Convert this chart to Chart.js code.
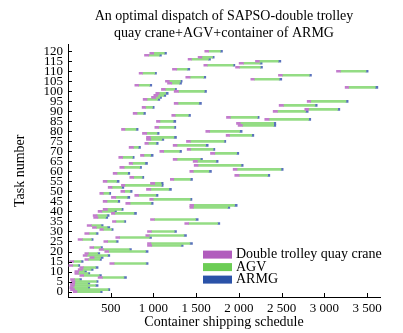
<!DOCTYPE html>
<html><head><meta charset="utf-8">
<script src="https://cdn.jsdelivr.net/npm/chart.js@4"></script>
<style>html,body{margin:0;padding:0;background:#fff}canvas{display:block}</style>
</head><body>
<canvas id="c" width="403" height="333"></canvas>
<script>
const taskNumbers = [0,1,2,3,4,5,6,7,8,9,10,11,12,13,14,15,16,17,18,19,20,21,22,23,24,25,26,27,28,29,30,31,32,33,34,35,36,37,38,39,40,41,42,43,44,45,46,47,48,49,50,51,52,53,54,55,56,57,58,59,60,61,62,63,64,65,66,67,68,69,70,71,72,73,74,75,76,77,78,79,80,81,82,83,84,85,86,87,88,89,90,91,92,93,94,95,96,97,98,99,100,101,102,103,104,105,106,107,108,109,110,111,112,113,114,115,116,117,118,119,120];
const craneStart = [
 60,29,21,29,29,41,29,352,138,80,
 80,119,138,10,489,21,197,255,177,197,
 430,364,255,930,930,419,118,559,910,196,
 930,372,286,224,1366,520,965,300,294,508,
 352,411,1425,1425,676,411,956,508,781,372,
 618,918,470,625,965,411,1197,723,1951,528,
 1425,1932,606,1476,715,1464,1230,594,848,1667,
 1074,1394,715,1230,899,1386,918,918,1850,871,
 1612,626,1016,1990,1971,1035,2302,1854,1214,762,
 2400,2770,867,2470,1242,2798,879,977,1004,1027,
 1242,1093,3242,782,1164,1140,2139,1378,2462,832,
 3141,1222,1960,1589,2002,2193,1405,1522,895,957,
 1600];
const craneTime = [
 45,50,40,45,50,40,45,50,45,40,
 45,50,40,45,50,45,40,50,45,40,
 45,50,45,50,40,45,50,45,40,50,
 45,40,45,50,45,40,45,50,45,40,
 45,50,40,45,50,45,40,50,45,40,
 45,50,45,40,50,45,40,45,50,45,
 40,45,50,45,40,50,45,45,40,50,
 45,40,50,45,40,45,50,45,40,50,
 45,40,45,50,45,40,50,45,40,45,
 50,45,40,50,45,40,45,50,45,40,
 50,45,40,45,50,45,40,50,45,40,
 45,50,45,40,50,45,40,45,50,45,
 45];
const armgEnd = [
 400,489,255,352,255,352,158,684,391,255,
 216,294,352,138,937,177,391,411,489,372,
 937,742,403,1347,1456,587,294,977,1386,352,
 1269,528,489,411,1776,676,1523,465,481,801,
 567,645,1893,1979,996,606,1450,723,1053,500,
 750,1210,653,1113,1113,598,1456,887,2361,723,
 1678,2517,860,2049,930,1756,1573,774,996,1998,
 1328,1718,848,1640,1055,1846,1121,1269,2174,1066,
 2037,820,1261,2431,2431,1261,2840,2236,1433,906,
 2810,3180,1008,2915,1561,3277,1074,1094,1144,1172,
 1620,1269,3625,980,1328,1335,2501,1612,2848,1035,
 3511,1425,2275,1952,2271,2490,1667,1710,1093,1152,
 1807];
const armgTime = [
 25,20,25,30,25,20,25,30,25,20,
 25,25,30,20,25,25,20,30,25,25,
 30,25,20,25,30,25,20,25,30,25,
 25,20,30,25,25,20,30,25,25,30,
 25,20,25,30,25,25,20,30,25,20,
 25,30,25,20,25,30,25,20,25,25,
 30,25,20,25,30,25,25,20,30,25,
 25,20,25,30,25,20,25,30,25,25,
 30,25,20,25,25,30,25,20,25,25,
 30,25,20,25,30,25,25,20,25,30,
 25,20,30,25,25,20,30,25,25,20,
 25,30,25,20,25,30,25,20,25,25,
 25];
const xTicks = [0,500,1000,1500,2000,2500,3000,3500];
const yTicks = [0,5,10,15,20,25,30,35,40,45,50,55,60,65,70,75,80,85,90,95,100,105,110,115,120];
const seriesNames = ['Double trolley quay crane','AGV','ARMG'];
const seriesColors = ['#b15cbd','#6ccd55','#2a52a8'];
const barColors = ['#c37ccd','#94dc84','#5a72bc'];
const titleLines = ['An optimal dispatch of SAPSO-double trolley','quay crane+AGV+container of ARMG'];

const SERIF = "'Liberation Serif','Times New Roman',serif";

const craneData = taskNumbers.map((t,i)=>({y:t, x:[craneStart[i], craneStart[i]+craneTime[i]]}));
const agvData = taskNumbers.map((t,i)=>({y:t, x:[craneStart[i]+craneTime[i], armgEnd[i]-armgTime[i]]}));
const armgData = taskNumbers.map((t,i)=>({y:t, x:[armgEnd[i]-armgTime[i], armgEnd[i]]}));

const decor = {
  id:'decor',
  afterDraw(chart){
    const ctx=chart.ctx, xs=chart.scales.x, ys=chart.scales.y, a=chart.chartArea;
    ctx.save();
    ctx.strokeStyle='#000'; ctx.lineWidth=1;
    ctx.beginPath();
    xTicks.forEach(v=>{const px=Math.round(xs.getPixelForValue(v))+0.5; ctx.moveTo(px,a.bottom); ctx.lineTo(px,a.bottom-4);});
    yTicks.forEach(v=>{const py=Math.round(ys.getPixelForValue(v))+0.5; ctx.moveTo(a.left,py); ctx.lineTo(a.left+4,py);});
    ctx.stroke();
    const ds = chart.data.datasets;
    const lx = a.left+135, rows=[a.top+210, a.top+222.5, a.top+235];
    ctx.font = "14px " + SERIF;
    ctx.textBaseline='middle'; ctx.textAlign='left';
    ds.forEach((d,i)=>{
      ctx.fillStyle=seriesColors[i];
      ctx.fillRect(lx, rows[i]-4, 29, 8);
      ctx.fillStyle='#000';
      ctx.fillText(d.label, lx+33, rows[i]);
    });
    ctx.restore();
  }
};

new Chart(document.getElementById('c'), {
  type:'bar',
  data:{datasets:[
    {label:seriesNames[0], data:craneData, backgroundColor:barColors[0]},
    {label:seriesNames[1], data:agvData, backgroundColor:barColors[1]},
    {label:seriesNames[2], data:armgData, backgroundColor:barColors[2]}
  ]},
  options:{
    indexAxis:'y',
    responsive:false,
    animation:false,
    devicePixelRatio:1,
    datasets:{bar:{barThickness:2, grouped:false, borderWidth:0}},
    layout:{padding:{left:0,right:23,top:0,bottom:0}},
    plugins:{
      legend:{display:false},
      tooltip:{enabled:false},
      title:{display:true, text:titleLines, fullSize:false, color:'#000',
        font:{family:SERIF, size:14, weight:'normal', lineHeight:1.2}, padding:{top:8,bottom:3}}
    },
    scales:{
      x:{type:'linear', min:0, max:3650,
        afterBuildTicks:s=>{s.ticks=xTicks.map(v=>({value:v}));},
        afterFit:s=>{s.height=36;},
        grid:{display:false, drawTicks:false},
        border:{display:true,color:'#000',width:1},
        ticks:{autoSkip:false, maxRotation:0, padding:4, color:'#000', font:{family:SERIF,size:13},
          callback:v=> v===0 ? '' : (v>=1000 ? Math.floor(v/1000)+' '+String(v%1000).padStart(3,'0') : String(v))},
        title:{display:true, text:'Container shipping schedule', color:'#000', font:{family:SERIF,size:14}, padding:{top:2,bottom:2}}
      },
      y:{type:'linear', min:-0.2, max:120.8,
        afterBuildTicks:s=>{s.ticks=yTicks.map(v=>({value:v}));},
        afterFit:s=>{s.width=68;},
        grid:{display:false, drawTicks:false},
        border:{display:true,color:'#000',width:1},
        ticks:{autoSkip:false, padding:5, color:'#000', font:{family:SERIF,size:13, lineHeight:1}},
        title:{display:true, text:'Task number', color:'#000', font:{family:SERIF,size:14}, padding:{top:12,bottom:0}}
      }
    }
  },
  plugins:[decor]
});
</script>
</body></html>
